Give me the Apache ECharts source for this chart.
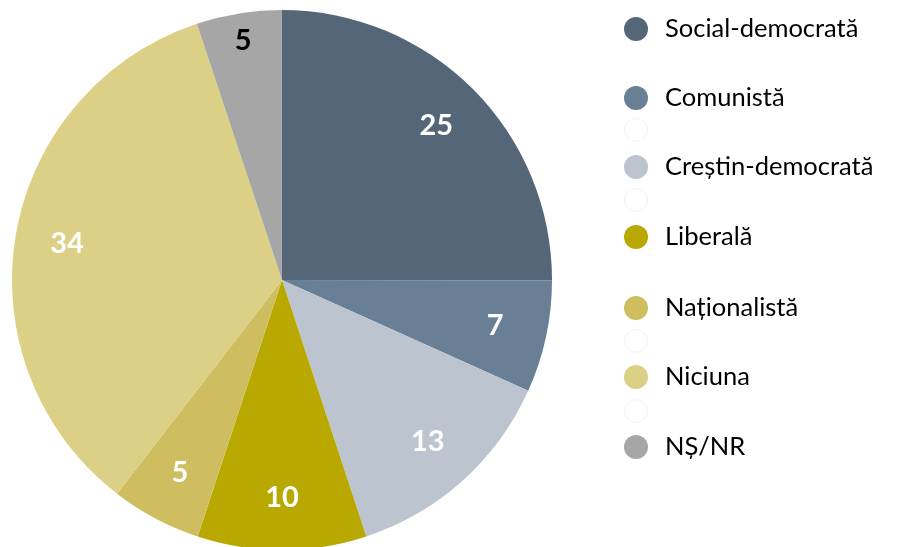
<!DOCTYPE html>
<html><head><meta charset="utf-8">
<script src="https://cdn.jsdelivr.net/npm/echarts@6/dist/echarts.min.js"></script>
<style>html,body{margin:0;padding:0;background:#fff}#c{width:909px;height:547px}</style>
</head><body><div id="c"></div>
<script>
const categories = ['Social-democrată','Comunistă','Creștin-democrată','Liberală','Naționalistă','Niciuna','NȘ/NR'];
const values = [25.0, 6.7, 13.2, 10.1, 5.4, 34.4, 5.1];
const colors = ['#546678','#687f95','#bcc4cf','#b9a800','#cfbe60','#dcd086','#a6a6a6'];
const labelColors = ['#fff','#fff','#fff','#fff','#fff','#fff','#000'];
const legendCenters = [28, 97, 166, 236, 307, 376, 446];
const faintCenters = [130, 200, 341, 411];

const cx = 282, cy = 280, R = 270;
const chart = echarts.init(document.getElementById('c'), null, {renderer:'canvas'});
const legends = categories.map((n,i)=>({
  show:true, data:[n], orient:'vertical', left:624, top:legendCenters[i]-12,
  padding:0, icon:'circle', itemWidth:24, itemHeight:24,
  textStyle:{fontFamily:'Lato', fontSize:25.5, color:'#000', padding:[0,0,0,12], lineHeight:24}
}));
chart.setOption({
  animation:false,
  legend: legends,
  graphic: faintCenters.map(y=>({type:'circle', shape:{cx:636, cy:y, r:11.5}, style:{fill:'#fff', stroke:'#f2f2f2', lineWidth:1}})),
  series:[{
    type:'pie', center:[cx,cy], radius:[0,R], startAngle:90, clockwise:true,
    data: categories.map((n,i)=>({name:n, value:values[i], itemStyle:{color:colors[i]}, label:{color:labelColors[i]}})),
    label:{show:true, position:'inside', formatter:p=>String(Math.round(p.value)), fontFamily:'Lato', fontWeight:'bold', fontSize:29},
    labelLine:{show:false},
    itemStyle:{borderWidth:0},
    emphasis:{disabled:true},
    labelLayout:function(p){
      const r = p.labelRect;
      const lx = r.x + r.width/2, ly = r.y + r.height/2;
      const k = p.dataIndex === 6 ? 1.76 : 1.58;
      return {dx:(lx-cx)*(k-1), dy:(ly-cy)*(k-1)};
    }
  }]
});
</script></body></html>
